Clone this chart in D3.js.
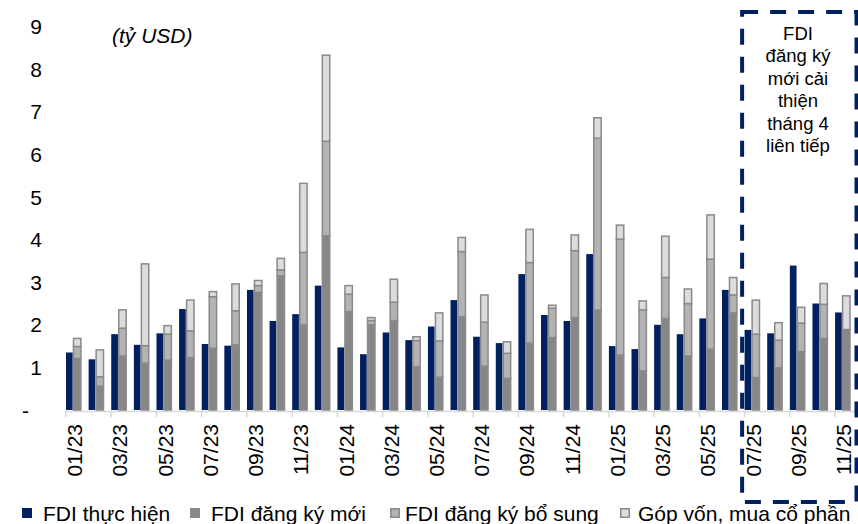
<!DOCTYPE html>
<html>
<head>
<meta charset="utf-8">
<script src="https://cdn.jsdelivr.net/npm/d3@7"></script>
<style>
  html, body { margin: 0; padding: 0; background: #fff; }
  svg { display: block; font-family: "Liberation Sans", Arial, sans-serif; }
</style>
</head>
<body>
<svg id="chart" width="858" height="524"></svg>
<script>
const months = ["01/23","02/23","03/23","04/23","05/23","06/23","07/23","08/23","09/23","10/23","11/23","12/23",
                "01/24","02/24","03/24","04/24","05/24","06/24","07/24","08/24","09/24","10/24","11/24","12/24",
                "01/25","02/25","03/25","04/25","05/25","06/25","07/25","08/25","09/25","10/25","11/25"];
const fdiThucHien = [1.35,1.19,1.78,1.53,1.80,2.37,1.55,1.51,2.82,2.09,2.25,2.92,
                     1.47,1.31,1.82,1.64,1.96,2.58,1.72,1.57,3.19,2.23,2.09,3.66,
                     1.50,1.43,2.00,1.78,2.15,2.82,1.88,1.80,3.39,2.50,2.29];
const fdiDangKyMoi = [1.21,0.56,1.27,1.10,1.17,1.23,1.45,1.53,2.76,3.15,2.00,4.09,
                      2.31,2.00,2.10,1.02,0.77,2.19,1.03,0.74,1.57,1.70,2.17,2.35,
                      1.29,0.92,2.15,1.27,1.43,2.28,0.76,0.99,1.37,1.68,1.89];
const fdiBoSung = [0.28,0.22,0.65,0.41,0.61,0.63,1.21,0.80,0.16,0.14,1.70,2.22,
                   0.41,0.10,0.43,0.61,0.85,1.53,1.03,0.59,1.89,0.69,1.57,4.03,
                   2.72,1.43,0.96,1.23,2.11,0.42,1.02,0.65,0.67,0.80,0.00];
const gopVon = [0.19,0.63,0.43,1.92,0.20,0.72,0.12,0.63,0.12,0.27,1.62,2.02,
                0.20,0.07,0.54,0.09,0.66,0.33,0.64,0.27,0.78,0.07,0.37,0.48,
                0.33,0.21,0.97,0.34,1.04,0.41,0.80,0.41,0.37,0.49,0.79];
const yTicks = [0,1,2,3,4,5,6,7,8,9];
const seriesNames = ["FDI thực hiện","FDI đăng ký mới","FDI đăng ký bổ sung","Góp vốn, mua cổ phần"];
const unitLabel = "(tỷ USD)";
const noteLines = ["FDI","đăng ký","mới cải","thiện","tháng 4","liên tiếp"];
const noteFrom = "07/25";

const colors = { navy: "#002060", dark: "#878787", mid: "#b3b3b3", light: "#dcdcdc", edge: "#8a8a8a", axis: "#d9d9d9" };

const svg = d3.select("#chart");

const x = d3.scaleBand().domain(months).range([66, 66 + 22.62 * months.length]).paddingInner(0).paddingOuter(0);
const y = d3.scaleLinear().domain([0, 9]).range([410, 26.6]);

// y labels
svg.append("g").selectAll("text").data(yTicks).join("text")
  .attr("x", d => d === 0 ? 25.5 : 42)
  .attr("y", d => y(d))
  .attr("dy", "0.36em")
  .attr("text-anchor", d => d === 0 ? "middle" : "end")
  .attr("font-size", 21)
  .attr("fill", "#000")
  .text(d => d === 0 ? "-" : d3.format("d")(d));

svg.append("text").attr("x", 112).attr("y", 43).attr("font-size", 21).attr("font-style", "italic").text(unitLabel);

// axis line + ticks
const xEnd = 858;
svg.append("line").attr("x1", 66).attr("x2", xEnd).attr("y1", 411.5).attr("y2", 411.5)
  .attr("stroke", colors.axis).attr("stroke-width", 1.5);
svg.append("g").selectAll("line").data(months.filter((d, i) => i % 2 === 0)).join("line")
  .attr("x1", d => x(d)).attr("x2", d => x(d)).attr("y1", 411).attr("y2", 417)
  .attr("stroke", colors.axis).attr("stroke-width", 1.5);

// navy bars
const navyW = 6.7;
svg.append("g").selectAll("rect").data(months).join("rect")
  .attr("x", d => x(d))
  .attr("width", navyW)
  .attr("y", (d, i) => y(fdiThucHien[i]))
  .attr("height", (d, i) => y(0) - y(fdiThucHien[i]))
  .attr("fill", colors.navy);

// stacked bars
const stackData = months.map((m, i) => ({ m, moi: fdiDangKyMoi[i], bosung: fdiBoSung[i], gop: gopVon[i] }));
const stack = d3.stack().keys(["moi", "bosung", "gop"])(stackData);
const segFill = { moi: colors.dark, bosung: colors.mid, gop: colors.light };
const gx = d => x(d.data.m) + navyW + 0.8;
const gW = 7.4;
svg.append("g").selectAll("g").data(stack).join("g")
  .attr("fill", s => segFill[s.key])
  .selectAll("rect").data(s => s.filter(p => p[1] - p[0] > 0.001)).join("rect")
  .attr("x", gx)
  .attr("width", gW)
  .attr("y", p => y(p[1]))
  .attr("height", p => y(p[0]) - y(p[1]))
  .attr("stroke", colors.edge)
  .attr("stroke-width", 1.5);

// x labels
svg.append("g").selectAll("text").data(months.filter((d, i) => i % 2 === 0)).join("text")
  .attr("transform", d => `translate(${x(d) + 8.5},424) rotate(-90)`)
  .attr("text-anchor", "end")
  .attr("dy", "0.36em")
  .attr("font-size", 21)
  .attr("fill", "#000")
  .text(d => d);

// note box
const bx = x(noteFrom) - 2.5;
svg.append("rect")
  .attr("x", bx).attr("y", 12).attr("width", 856.5 - bx).attr("height", 490)
  .attr("fill", "none").attr("stroke", colors.navy).attr("stroke-width", 4)
  .attr("stroke-dasharray", "16,12");
svg.append("g").selectAll("text").data(noteLines).join("text")
  .attr("x", 798).attr("y", (d, i) => 40 + i * 22.4)
  .attr("text-anchor", "middle").attr("font-size", 18.5).attr("fill", "#000")
  .text(d => d);

// legend
const legendX = [22, 190, 390, 620];
const legendFill = [colors.navy, colors.dark, colors.mid, colors.light];
const lg = svg.append("g").selectAll("g").data(seriesNames).join("g")
  .attr("transform", (d, i) => `translate(${legendX[i]},508)`);
lg.append("rect").attr("x", 0.75).attr("y", 0.75).attr("width", 8.5).attr("height", 8.5)
  .attr("fill", (d, i) => legendFill[i])
  .attr("stroke", (d, i) => i === 0 ? colors.navy : colors.edge).attr("stroke-width", 1.5);
lg.append("text").attr("x", (d, i) => i === 2 ? 15 : (i === 3 ? 18 : 21)).attr("y", 13)
  .attr("font-size", 21).attr("fill", "#000").text(d => d);
</script>
</body>
</html>
